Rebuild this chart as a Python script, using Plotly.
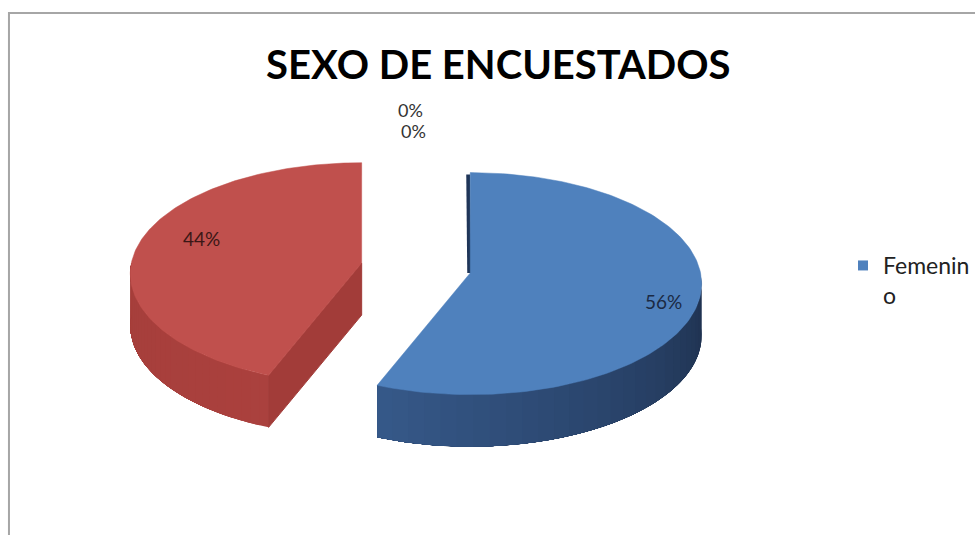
import numpy as np
import plotly.graph_objects as go

# ---- data ----
categories = ["Femenino", "Masculino", "Otro", "Sin respuesta"]
values = [56, 44, 0, 0]
title_text = "SEXO DE ENCUESTADOS"

# ---- style / geometry (screen-like units, y downwards) ----
W, H = 975, 535
CX, CY = 417, 268           # projected pie centre
A, B, K = 231, 110, 0.096   # horizontal radius, vertical radius, perspective
DEPTH = 52                  # thickness of the 3D pie
EXPLODE = 0.24
top_colors = ["#4F81BD", "#C0504D", "#9BBB59", "#8064A2"]
wall_grad = [("#1D2F4C", "#36598A"), ("#B34542", "#A53E3B"), ("#76923C", "#76923C"), ("#5F497A", "#5F497A")]
cut_colors = ["#1F3558", "#A23C39", "#76923C", "#5F497A"]
label_colors = ["#1B2A44", "#3B1716", "#333333", "#333333"]
label_nudge = [(10, 4), (18, -16), (0, 0), (0, 0)]
FONT = "Lato"


def proj(theta_deg, r):
    th = np.radians(theta_deg)
    den = 1 + K * r * np.cos(th)
    return A * r * np.sin(th) / den, -B * r * np.cos(th) / den


def mix(c1, c2, t):
    a = [int(c1[i:i + 2], 16) for i in (1, 3, 5)]
    b = [int(c2[i:i + 2], 16) for i in (1, 3, 5)]
    return "#%02x%02x%02x" % tuple(int(round(a[i] + (b[i] - a[i]) * t)) for i in range(3))


total = float(sum(values))
angles = []
acc = 0.0
for v in values:
    a0 = acc / total * 360
    acc += v
    angles.append((a0, acc / total * 360))

fig = go.Figure()
back_traces, top_traces, labels = [], [], []

for i, (cat, v) in enumerate(zip(categories, values)):
    a0, a1 = angles[i]
    if v <= 0:
        continue
    mid = (a0 + a1) / 2
    ex, ey = proj(mid, EXPLODE)
    ax, ay = CX + ex, CY + ey
    # top face
    th = np.linspace(a0, a1, 160)
    px, py = proj(th, 1.0)
    tx = np.concatenate([[ax], ax + px, [ax]])
    ty = np.concatenate([[ay], ay + py, [ay]])
    top_traces.append(go.Scatter(x=tx, y=ty, fill="toself", mode="lines",
                                 fillcolor=top_colors[i], line=dict(color=top_colors[i], width=0.5),
                                 hoverinfo="skip", showlegend=False))
    # outer wall (front half only): layered, each layer covers from its start to the end (no seams)
    lo, hi = max(a0, 90.0), min(a1, 270.0)
    if hi > lo:
        n = 30
        edges = np.linspace(lo, hi, n + 1)
        for j in range(n):
            e = np.linspace(edges[j], hi, 80)
            wx, wy = proj(e, 1.0)
            xs = np.concatenate([ax + wx, (ax + wx)[::-1]])
            ys = np.concatenate([ay + wy, (ay + wy + DEPTH)[::-1]])
            t = (edges[j] + edges[j + 1]) / 2
            frac = (t - 90.0) / 180.0
            c = mix(wall_grad[i][0], wall_grad[i][1], min(1, max(0, frac * 1.6 if i == 0 else frac)))
            back_traces.append(go.Scatter(x=xs, y=ys, fill="toself", mode="lines", fillcolor=c,
                                          line=dict(width=0), hoverinfo="skip", showlegend=False))
    # cut face at the start angle when it faces the viewer
    if np.sin(np.radians(a0)) < -1e-6:
        rx, ry = proj(a0, 1.0)
        xs = [ax, ax + rx, ax + rx, ax, ax]
        ys = [ay, ay + ry, ay + ry + DEPTH, ay + DEPTH, ay]
        back_traces.append(go.Scatter(x=xs, y=ys, fill="toself", mode="lines", fillcolor=cut_colors[i],
                                      line=dict(color=cut_colors[i], width=1), hoverinfo="skip",
                                      showlegend=False))
    # thin visible edge of the cut face at 12 o'clock
    if a0 == 0 and a1 > 0:
        rx, ry = proj(0, 1.0)
        back_traces.append(go.Scatter(x=[ax + rx - 2, ax - 1], y=[ay + ry + 2, ay], mode="lines",
                                      line=dict(color=cut_colors[i], width=4), hoverinfo="skip",
                                      showlegend=False))
    # label on top face
    lx, ly = proj(mid, 0.8)
    labels.append((ax + lx + label_nudge[i][0], ay + ly + 8 + label_nudge[i][1],
                   f"{v / total * 100:.0f}%", label_colors[i], 19))

# zero-value slice labels, stacked above the pie top
zi = 0
for i, v in enumerate(values):
    if v == 0:
        zx, zy = proj(angles[i][0], 1.5)
        labels.append((CX + zx - 5 + 3 * zi, CY + zy - 14 + 21 * zi, "0%", label_colors[i], 18))
        zi += 1

for tr in back_traces + top_traces:
    fig.add_trace(tr)

for x, y, t, c, s in labels:
    fig.add_annotation(x=x, y=y, text=t, showarrow=False, xref="x", yref="y",
                       font=dict(family=FONT, size=s, color=c), borderpad=0)

# legend entry (only the first category is visible in the original)
leg_name = categories[0][:7] + "<br>" + categories[0][7:]
fig.add_trace(go.Scatter(x=[None], y=[None], mode="markers", name=leg_name,
                         marker=dict(symbol="square", size=10, color=top_colors[0]),
                         showlegend=True, hoverinfo="skip"))

fig.update_layout(
    width=W, height=H,
    margin=dict(l=0, r=0, t=0, b=0),
    paper_bgcolor="white", plot_bgcolor="white",
    title=dict(text=f"<b>{title_text}</b>", x=0.511, xanchor="center", y=1 - 65 / H, yanchor="middle",
               font=dict(family=FONT, size=40, color="#000000")),
    xaxis=dict(range=[0, W], visible=False, fixedrange=True),
    yaxis=dict(range=[H, 0], visible=False, fixedrange=True),
    legend=dict(x=846 / W, y=1 - 244 / H, xanchor="left", yanchor="top", valign="top",
                font=dict(family=FONT, size=23, color="#222222"), bgcolor="rgba(0,0,0,0)",
                itemwidth=30, tracegroupgap=0),
    shapes=[dict(type="rect", xref="paper", yref="paper", x0=9 / W, x1=1.05, y0=-0.05, y1=1 - 13 / H,
                 line=dict(color="#A6A6A6", width=2), fillcolor="rgba(0,0,0,0)", layer="above")],
    hovermode=False,
)

fig.write_html("out.html")
